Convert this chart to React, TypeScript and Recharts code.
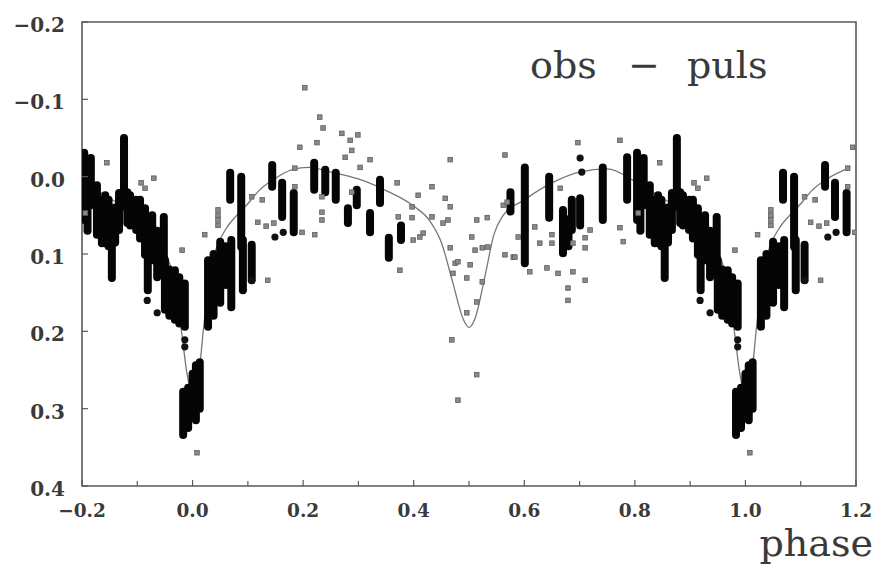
import React from 'react';
import { ComposedChart, Line, Scatter, XAxis, YAxis, ReferenceArea } from 'recharts';

// ---------- data (phase-folded light curve, base phase range 0..1) ----------
// dense vertical groups of observations: phase, top value, bottom value
const STREAK_PHASE = [0.006, 0.013, 0.028, 0.050, 0.068, 0.070, 0.088, 0.091, 0.107, 0.144,
  0.162, 0.183, 0.220, 0.240, 0.259, 0.281, 0.297, 0.321, 0.339, 0.355,
  0.377, 0.601, 0.645, 0.670, 0.686, 0.701, 0.742, 0.786, 0.804, 0.816,
  0.827, 0.836, 0.842, 0.854, 0.867, 0.876, 0.887, 0.898, 0.914, 0.919,
  0.927, 0.948, 0.950, 0.968, 0.986, 0.983, 0.992,
  0.810, 0.848, 0.860, 0.882, 0.905, 0.936, 0.958, 0.976, 0.000, 0.038, 0.060, 0.575, 0.680];
const STREAK_TOP = [0.244, 0.240, 0.108, 0.084, -0.005, 0.082, 0.000, 0.082, 0.088, -0.015,
  0.008, 0.021, -0.018, -0.009, -0.005, 0.041, 0.017, 0.047, 0.004, 0.079,
  0.063, -0.012, 0.000, 0.043, 0.030, 0.028, -0.012, -0.025, -0.031, -0.024,
  0.011, 0.030, 0.024, 0.086, 0.021, -0.050, 0.024, 0.030, 0.041, 0.099,
  0.050, 0.052, 0.108, 0.121, 0.138, 0.278, 0.273,
  0.000, 0.030, 0.040, 0.020, 0.030, 0.070, 0.120, 0.130, 0.255, 0.100, 0.090, 0.020, 0.055];
const STREAK_BOTTOM = [0.315, 0.300, 0.194, 0.163, 0.030, 0.169, 0.091, 0.147, 0.134, 0.013,
  0.052, 0.072, 0.017, 0.020, 0.030, 0.060, 0.037, 0.072, 0.034, 0.105,
  0.082, 0.112, 0.053, 0.099, 0.069, 0.063, 0.056, 0.030, 0.056, 0.037,
  0.075, 0.086, 0.086, 0.131, 0.069, 0.039, 0.063, 0.069, 0.101, 0.147,
  0.108, 0.104, 0.172, 0.185, 0.194, 0.334, 0.325,
  0.070, 0.090, 0.085, 0.060, 0.080, 0.130, 0.180, 0.190, 0.310, 0.180, 0.140, 0.045, 0.090];

// sparse (grey) observations
const GRAY_PHASE = [0.845, 0.907, 0.914, 0.930, 0.981, 0.008, 0.022, 0.046, 0.046, 0.046,
  0.046, 0.107, 0.126, 0.118, 0.133, 0.147, 0.136, 0.185, 0.185, 0.194,
  0.198, 0.203, 0.225, 0.230, 0.236, 0.234, 0.234, 0.234, 0.221, 0.270,
  0.285, 0.299, 0.276, 0.288, 0.321, 0.303, 0.288, 0.370, 0.408, 0.433,
  0.466, 0.457, 0.466, 0.397, 0.397, 0.433, 0.453, 0.417, 0.399, 0.372,
  0.375, 0.466, 0.475, 0.480, 0.471, 0.502, 0.496, 0.505, 0.514, 0.533,
  0.511, 0.524, 0.534, 0.524, 0.514, 0.496, 0.469, 0.514, 0.480, 0.565,
  0.562, 0.569, 0.565, 0.580, 0.589, 0.462, 0.411, 0.697, 0.773, 0.665,
  0.619, 0.628, 0.650, 0.650, 0.688, 0.710, 0.710, 0.719, 0.583, 0.610,
  0.641, 0.661, 0.688, 0.710, 0.679, 0.679, 0.773, 0.779, 0.806];
const GRAY_MAG = [-0.018, 0.008, 0.015, 0.002, 0.095, 0.357, 0.075, 0.043, 0.050, 0.056,
  0.063, 0.026, 0.030, 0.059, 0.064, 0.060, 0.134, -0.011, 0.013, -0.038,
  0.072, -0.115, -0.044, -0.077, -0.063, 0.026, 0.046, 0.056, 0.075, -0.056,
  -0.047, -0.054, -0.025, -0.034, -0.022, -0.012, 0.020, 0.008, 0.024, 0.013,
  -0.022, 0.028, 0.039, 0.039, 0.053, 0.052, 0.060, 0.073, 0.082, 0.052,
  0.121, 0.092, 0.112, 0.110, 0.125, 0.114, 0.131, 0.078, 0.056, 0.053,
  0.095, 0.092, 0.091, 0.136, 0.162, 0.176, 0.211, 0.256, 0.289, -0.028,
  0.037, 0.033, 0.101, 0.104, 0.078, 0.056, 0.078, -0.044, -0.047, 0.015,
  0.065, 0.086, 0.075, 0.086, 0.086, 0.079, 0.092, 0.069, 0.104, 0.123,
  0.118, 0.125, 0.123, 0.134, 0.144, 0.160, 0.066, 0.084, 0.047];

// isolated dark observations
const DARK_PHASE = [0.918, 0.936, 0.986, 0.986, 0.107, 0.701, 0.704, 0.164, 0.149];
const DARK_MAG = [0.160, 0.176, 0.211, 0.220, 0.134, -0.024, -0.006, 0.072, 0.078];

// model light curve
const CURVE_PHASE = [0.0, 0.01, 0.02, 0.03, 0.04, 0.06, 0.08, 0.1, 0.12, 0.15,
  0.18, 0.21, 0.25, 0.3, 0.35, 0.4, 0.43, 0.45, 0.47, 0.49,
  0.5, 0.51, 0.53, 0.545, 0.56, 0.6, 0.65, 0.7, 0.75, 0.8,
  0.85, 0.9, 0.93, 0.95, 0.965, 0.98, 0.99];
const CURVE_MAG = [0.28, 0.262, 0.195, 0.135, 0.1, 0.068, 0.05, 0.035, 0.018, 0.002,
  -0.009, -0.012, -0.006, 0.003, 0.018, 0.038, 0.058, 0.085, 0.135, 0.185,
  0.195, 0.185, 0.125, 0.075, 0.052, 0.03, 0.008, -0.006, -0.01, 0.006,
  0.028, 0.05, 0.07, 0.095, 0.13, 0.2, 0.255];

const X_TICKS = [-0.2, -0.1, 0.0, 0.1, 0.2, 0.3, 0.4, 0.5, 0.6, 0.7, 0.8, 0.9, 1.0, 1.1, 1.2];
const Y_TICKS = [-0.2, -0.1, 0.0, 0.1, 0.2, 0.3, 0.4];

// ---------- layout ----------
const W = 878;
const H = 565;
const PLOT = { left: 82, right: 856, top: 22, bottom: 486 };
const FONT = '"DejaVu Serif", serif';
const AXIS_COLOR = '#5a5a5a';

// phase-fold display copies over -0.2..1.2
const copies = (p: number): number[] => {
  const out = [p];
  if (p >= 0.8) out.push(p - 1);
  if (p <= 0.2) out.push(p + 1);
  return out;
};

const streakSegments: { x: number; top: number; bottom: number }[] = [];
STREAK_PHASE.forEach((p, i) => {
  copies(p).forEach((x) => streakSegments.push({ x, top: STREAK_TOP[i], bottom: STREAK_BOTTOM[i] }));
});

const grayPoints: { x: number; y: number }[] = [];
GRAY_PHASE.forEach((p, i) => copies(p).forEach((x) => grayPoints.push({ x, y: GRAY_MAG[i] })));

const darkPoints: { x: number; y: number }[] = [];
DARK_PHASE.forEach((p, i) => copies(p).forEach((x) => darkPoints.push({ x, y: DARK_MAG[i] })));

const curveData: { x: number; y: number }[] = [];
CURVE_PHASE.forEach((p, i) => copies(p).forEach((x) => curveData.push({ x, y: CURVE_MAG[i] })));
curveData.push({ x: 1.0, y: CURVE_MAG[0] });
curveData.sort((a, b) => a.x - b.x);
const curveClipped = curveData.filter((d) => d.x >= -0.2 - 1e-9 && d.x <= 1.2 + 1e-9);

const fmt = (v: number) => (v < 0 ? '\u2212' + Math.abs(v).toFixed(1) : v.toFixed(1));

const XTick = (props: any) => {
  const { x, payload } = props;
  const v: number = payload.value;
  const major = Math.abs(Math.round(v * 10)) % 2 === 0;
  return (
    <g>
      <line x1={x} x2={x} y1={PLOT.bottom} y2={PLOT.bottom - (major ? 6 : 5)} stroke={AXIS_COLOR} strokeWidth={1.2} />
      {major && (
        <text x={x} y={PLOT.bottom + 31} textAnchor="middle" fontFamily={FONT} fontWeight="bold" fontSize={18.5} fill="#3a3a3a">
          {fmt(v)}
        </text>
      )}
    </g>
  );
};

const YTick = (props: any) => {
  const { y, payload } = props;
  const v: number = payload.value;
  return (
    <g>
      <line x1={PLOT.left} x2={PLOT.left + 6} y1={y} y2={y} stroke={AXIS_COLOR} strokeWidth={1.2} />
      <text x={65} y={y + 10} textAnchor="end" fontFamily={FONT} fontWeight="bold" fontSize={20} fill="#3a3a3a">
        {fmt(v)}
      </text>
    </g>
  );
};

const GrayShape = (props: any) => {
  const { cx, cy } = props;
  if (cx == null || cy == null) return <g />;
  return <rect x={cx - 2.3} y={cy - 2.3} width={4.6} height={4.6} fill="#8a8a8a" stroke="#5e5e5e" strokeWidth={0.8} />;
};

const DarkShape = (props: any) => {
  const { cx, cy } = props;
  if (cx == null || cy == null) return <g />;
  return <circle cx={cx} cy={cy} r={3.6} fill="#111" />;
};

export default function App() {
  return (
    <div style={{ position: 'absolute', left: 0, top: 0, width: W, height: H, background: '#fff' }}>
      <ComposedChart
        width={W}
        height={H}
        margin={{ top: PLOT.top, right: W - PLOT.right, bottom: 0, left: 0 }}
      >
        <XAxis
          dataKey="x"
          type="number"
          domain={[-0.2, 1.2]}
          ticks={X_TICKS}
          allowDataOverflow
          axisLine={false}
          tickLine={false}
          tick={<XTick />}
          height={H - PLOT.bottom}
          interval={0}
        />
        <YAxis
          dataKey="y"
          type="number"
          domain={[-0.2, 0.4]}
          reversed
          ticks={Y_TICKS}
          allowDataOverflow
          axisLine={false}
          tickLine={false}
          tick={<YTick />}
          width={PLOT.left}
          interval={0}
        />
        <ReferenceArea
          x1={-0.2}
          x2={1.2}
          y1={-0.2}
          y2={0.4}
          fill="none"
          fillOpacity={0}
          stroke={AXIS_COLOR}
          strokeWidth={1.6}
          ifOverflow="visible"
        />
        <Line
          data={curveClipped}
          dataKey="y"
          type="monotone"
          stroke="#777"
          strokeWidth={1.3}
          dot={false}
          activeDot={false}
          isAnimationActive={false}
        />
        <Scatter data={grayPoints} dataKey="y" shape={<GrayShape />} isAnimationActive={false} />
        {streakSegments.map((s, i) => (
          <Line
            key={'s' + i}
            data={[{ x: s.x, y: s.top }, { x: s.x, y: s.bottom }]}
            dataKey="y"
            type="linear"
            stroke="#050505"
            strokeWidth={8}
            strokeLinecap="round"
            dot={false}
            activeDot={false}
            isAnimationActive={false}
          />
        ))}
        <Scatter data={darkPoints} dataKey="y" shape={<DarkShape />} isAnimationActive={false} />
      </ComposedChart>
      <svg
        width={W}
        height={H}
        style={{ position: 'absolute', left: 0, top: 0, pointerEvents: 'none' }}
      >
        <text x={530} y={78} fontFamily={FONT} fontSize={38} fill="#3a3a3a">obs</text>
        <text x={644} y={78} textAnchor="middle" fontFamily={FONT} fontSize={38} fill="#3a3a3a">{'\u2212'}</text>
        <text x={687} y={78} fontFamily={FONT} fontSize={38} fill="#3a3a3a">puls</text>
        <text x={873} y={556} textAnchor="end" fontFamily={FONT} fontSize={38} fill="#3a3a3a">phase</text>
      </svg>
    </div>
  );
}
